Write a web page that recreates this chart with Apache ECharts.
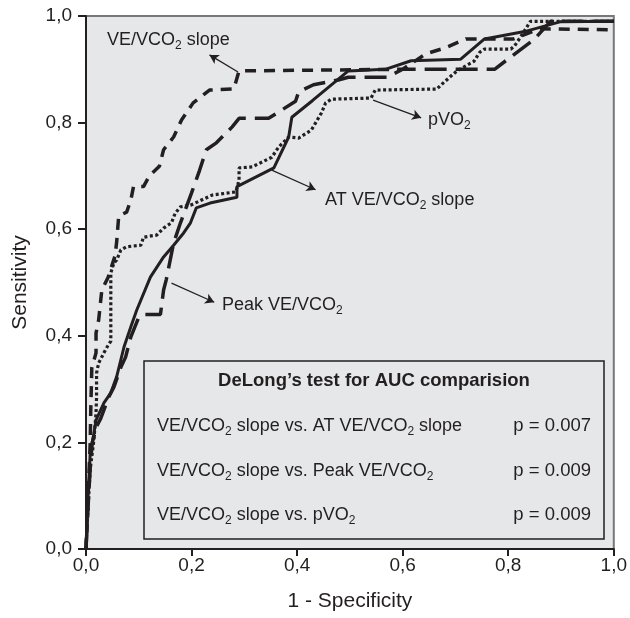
<!DOCTYPE html>
<html><head><meta charset="utf-8">
<script src="https://cdn.jsdelivr.net/npm/echarts@6/dist/echarts.min.js"></script>
<style>html,body{margin:0;padding:0;background:#fff}#c{width:630px;height:618px}</style>
</head><body><div id="c"></div>
<script>
// ROC curves: [1 - specificity, sensitivity]
const slopeROC = [[0,0],[0.004,0.1],[0.008,0.2],[0.009,0.26],[0.01,0.3],[0.011,0.34],[0.019,0.368],[0.019,0.405],[0.024,0.43],[0.03,0.486],[0.042,0.51],[0.055,0.55],[0.058,0.575],[0.062,0.625],[0.077,0.632],[0.085,0.655],[0.09,0.68],[0.109,0.68],[0.12,0.7],[0.139,0.718],[0.147,0.749],[0.166,0.773],[0.181,0.805],[0.203,0.837],[0.234,0.861],[0.28,0.863],[0.29,0.897],[0.6,0.9],[0.644,0.929],[0.68,0.94],[0.72,0.957],[0.81,0.957],[0.86,0.976],[1,0.974]];
const atSlopeROC = [[0,0],[0.004,0.1],[0.008,0.18],[0.015,0.217],[0.019,0.242],[0.034,0.274],[0.047,0.293],[0.058,0.323],[0.072,0.379],[0.085,0.417],[0.096,0.448],[0.122,0.51],[0.147,0.548],[0.166,0.57],[0.185,0.593],[0.198,0.612],[0.209,0.64],[0.235,0.649],[0.286,0.66],[0.286,0.68],[0.356,0.715],[0.384,0.773],[0.39,0.81],[0.43,0.842],[0.497,0.897],[0.567,0.9],[0.616,0.916],[0.71,0.919],[0.755,0.957],[0.836,0.972],[0.898,0.989],[1,0.99]];
const peakROC = [[0,0],[0.005,0.1],[0.009,0.17],[0.012,0.2],[0.02,0.23],[0.028,0.245],[0.043,0.285],[0.053,0.304],[0.066,0.341],[0.075,0.36],[0.085,0.398],[0.1,0.435],[0.11,0.44],[0.141,0.44],[0.147,0.486],[0.152,0.505],[0.166,0.574],[0.179,0.612],[0.2,0.668],[0.215,0.71],[0.228,0.749],[0.247,0.762],[0.277,0.792],[0.29,0.808],[0.346,0.808],[0.397,0.84],[0.403,0.858],[0.431,0.871],[0.478,0.88],[0.497,0.885],[0.57,0.885],[0.6,0.9],[0.774,0.9],[0.85,0.957],[0.88,0.99],[1,0.99]];
const pvo2ROC = [[0,0],[0.004,0.08],[0.008,0.15],[0.015,0.205],[0.019,0.255],[0.02,0.285],[0.02,0.33],[0.024,0.349],[0.034,0.368],[0.04,0.379],[0.047,0.39],[0.047,0.518],[0.053,0.537],[0.058,0.542],[0.066,0.561],[0.077,0.567],[0.104,0.57],[0.109,0.585],[0.134,0.589],[0.147,0.602],[0.162,0.612],[0.169,0.63],[0.179,0.642],[0.198,0.645],[0.239,0.664],[0.284,0.67],[0.29,0.692],[0.29,0.715],[0.315,0.717],[0.352,0.735],[0.365,0.754],[0.384,0.773],[0.403,0.771],[0.427,0.786],[0.446,0.818],[0.454,0.837],[0.465,0.844],[0.54,0.846],[0.548,0.861],[0.665,0.863],[0.672,0.87],[0.69,0.886],[0.703,0.897],[0.735,0.915],[0.746,0.932],[0.755,0.938],[0.805,0.938],[0.812,0.944],[0.823,0.96],[0.842,0.99],[1,0.99]];

// annotation arrows: [from point on curve, arrow head near label]
const slopeArrow = [[0.288,0.895],[0.234,0.927]];
const pvo2Arrow = [[0.544,0.842],[0.635,0.809]];
const atArrow = [[0.352,0.711],[0.435,0.674]];
const peakArrow = [[0.162,0.499],[0.243,0.463]];

const tableTitle = 'DeLong\u2019s test for AUC comparision';
const comparisons = ['VE/VCO_2 slope vs. AT VE/VCO_2 slope','VE/VCO_2 slope vs. Peak VE/VCO_2','VE/VCO_2 slope vs. pVO_2'];
const pValues = ['p = 0.007','p = 0.009','p = 0.009'];

const FONT = '"Liberation Sans", Arial, Helvetica, sans-serif';
const INK = '#231f20';
const BG = '#e6e7e8';
function subText(t){ return t.replace(/_2/g,'{s|2}'); }
const rich = {
  s:{fontSize:12, fontFamily:FONT, fill:INK, color:INK, padding:[12,0,0,0], verticalAlign:'bottom'}
};

const chart = echarts.init(document.getElementById('c'), null, {renderer:'canvas'});

function arrowML(a){
  return {
    silent:true, animation:false,
    symbol:['none','arrow'], symbolSize:[8,9],
    lineStyle:{color:INK, width:1.3, type:'solid'},
    label:{show:false},
    data:[[{coord:a[0]},{coord:a[1]}]]
  };
}

const axisLabel = {color:INK, fontSize:19, fontFamily:FONT, formatter:v=>v.toFixed(1).replace('.',',')};

function label(text, x, y, extra){
  return Object.assign({type:'text', x:x, y:y, z:100, style:{text:subText(text), fill:INK, fontSize:18, fontFamily:FONT, verticalAlign:'middle', rich:rich}}, extra||{});
}

const graphics = [
  {type:'rect', shape:{x:144,y:361,width:460,height:178}, style:{fill:BG, stroke:INK, lineWidth:1.5}, z:50},
  label('VE/VCO_2 slope',107,40),
  label('pVO_2',428,120),
  label('AT VE/VCO_2 slope',325,200),
  label('Peak VE/VCO_2',222,305),
  {type:'text', x:374, y:381, z:100, style:{text:tableTitle, fill:INK, fontSize:18.5, fontWeight:'bold', fontFamily:FONT, align:'center', verticalAlign:'middle'}}
];
const rowY = [426,471,515];
comparisons.forEach((c,i)=>{
  graphics.push(label(c,157,rowY[i]));
  graphics.push({type:'text', x:591, y:rowY[i], z:100, style:{text:pValues[i], fill:INK, fontSize:18.5, fontFamily:FONT, align:'right', verticalAlign:'middle'}});
});

chart.setOption({
  animation:false,
  backgroundColor:'#fff',
  grid:{left:86,right:13,top:16,bottom:69, show:true, backgroundColor:BG, borderColor:'#77787b', borderWidth:2},
  xAxis:{type:'value', min:0, max:1, interval:0.2,
    name:'1 - Specificity', nameLocation:'middle', nameGap:42,
    nameTextStyle:{color:INK, fontSize:21, fontFamily:FONT},
    axisLine:{show:true, lineStyle:{color:INK, width:2}},
    axisTick:{show:true, length:7, lineStyle:{color:INK, width:2}},
    axisLabel:Object.assign({margin:7}, axisLabel),
    splitLine:{show:false}},
  yAxis:{type:'value', min:0, max:1, interval:0.2,
    name:'Sensitivity', nameLocation:'middle', nameGap:55, nameRotate:90,
    nameTextStyle:{color:INK, fontSize:21, fontFamily:FONT},
    axisLine:{show:true, lineStyle:{color:INK, width:2}},
    axisTick:{show:true, length:8, lineStyle:{color:INK, width:2}},
    axisLabel:Object.assign({margin:14}, axisLabel),
    splitLine:{show:false}},
  series:[
    {name:'VE/VCO2 slope', type:'line', data:slopeROC, showSymbol:false, symbol:'none',
      lineStyle:{color:INK, width:3.5, type:[11,8]}, markLine:arrowML(slopeArrow)},
    {name:'AT VE/VCO2 slope', type:'line', data:atSlopeROC, showSymbol:false, symbol:'none',
      lineStyle:{color:INK, width:3}, markLine:arrowML(atArrow)},
    {name:'Peak VE/VCO2', type:'line', data:peakROC, showSymbol:false, symbol:'none',
      lineStyle:{color:INK, width:3.5, type:[22,9]}, markLine:arrowML(peakArrow)},
    {name:'pVO2', type:'line', data:pvo2ROC, showSymbol:false, symbol:'none',
      lineStyle:{color:INK, width:3.2, type:[3,2.5]}, markLine:arrowML(pvo2Arrow)}
  ],
  graphic:graphics
});
</script></body></html>
